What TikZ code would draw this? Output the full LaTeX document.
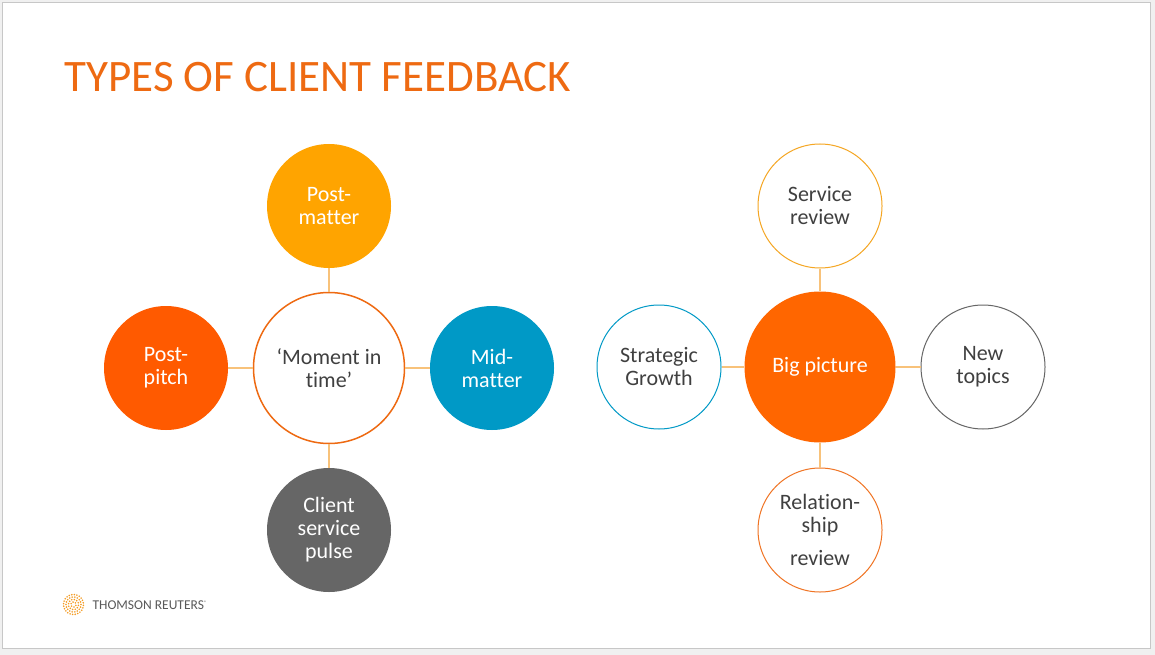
\documentclass[tikz,border=0pt]{standalone}
\usepackage{fontspec}
\setmainfont{Carlito}[Ligatures=CommonOff]
\definecolor{troragne}{HTML}{EE6A12}
\definecolor{trpitch}{HTML}{FF5A00}
\definecolor{trbig}{HTML}{FF6600}
\definecolor{trgold}{HTML}{FFA400}
\definecolor{trblue}{HTML}{0099C6}
\definecolor{trgrey}{HTML}{666666}
\definecolor{trtext}{HTML}{404040}
\definecolor{trlink}{HTML}{F8C27A}
\definecolor{trsvc}{HTML}{F5A623}
\definecolor{trrel}{HTML}{F07424}
\tikzset{
  bubble/.style={circle, minimum size=124pt, inner sep=0pt, align=center,
    font=\fontsize{22}{23}\selectfont},
  solid bubble/.style={bubble, fill=#1, text=white},
  ring bubble/.style={bubble, draw=#1, line width=1pt, fill=white, text=trtext},
  hub/.style={minimum size=151pt},
  link/.style={draw=trlink, line width=1.5pt}
}
\begin{document}
\begin{tikzpicture}[x=1pt, y=-1pt]
    \useasboundingbox (0, 0) rectangle (1155, 655);
    \fill [black!6] (0, 0) rectangle (1155, 655);
    \draw [black!22, fill=white] (2, 2) rectangle (1150, 648);

    \node [anchor=base west, text=troragne, font=\fontsize{45}{45}\selectfont] (title) at (61, 92) {TYPES OF CLIENT FEEDBACK};

    \node [ring bubble=troragne, hub, line width=1.5pt] (moment) at (329, 368) {‘Moment in\\time’};
    \node [solid bubble=trgold] (postmatter) at (329, 206) {Post-\\matter};
    \node [solid bubble=trpitch] (postpitch) at (166, 368) {Post-\\pitch};
    \node [solid bubble=trblue] (midmatter) at (492, 368) {Mid-\\matter};
    \node [solid bubble=trgrey] (pulse) at (329, 530) {Client\\service\\pulse};

    \draw [link] (moment) -- (postmatter);
    \draw [link] (moment) -- (postpitch);
    \draw [link] (moment) -- (midmatter);
    \draw [link] (moment) -- (pulse);

    \node [solid bubble=trbig, hub] (bigpicture) at (820, 367) {Big picture};
    \node [ring bubble=trsvc] (service) at (820, 206) {Service\\review};
    \node [ring bubble=trblue] (strategic) at (659, 367) {Strategic\\Growth};
    \node [ring bubble=trgrey] (newtopics) at (983, 367) {New\\topics};
    \node [ring bubble=trrel] (relation) at (820, 530) {Relation-\\ship\\[10pt]review};

    \draw [link] (bigpicture) -- (service);
    \draw [link] (bigpicture) -- (strategic);
    \draw [link] (bigpicture) -- (newtopics);
    \draw [link] (bigpicture) -- (relation);

    \coordinate (logo) at (73.5, 604.5);
    \foreach \r/\n in {2.5/6, 5/12, 7.5/18, 10/24}
        \foreach \k in {1,...,\n}
            \fill [trsvc!80!troragne] (logo) ++({360*\k/\n + 8*\r}:\r) circle [radius=0.9];
    \node [anchor=west, text=black!65, font=\fontsize{13.5}{13.5}\selectfont] (brand) at (89, 605) {THOMSON REUTERS\textsuperscript{\tiny®}};
\end{tikzpicture}
\end{document}
